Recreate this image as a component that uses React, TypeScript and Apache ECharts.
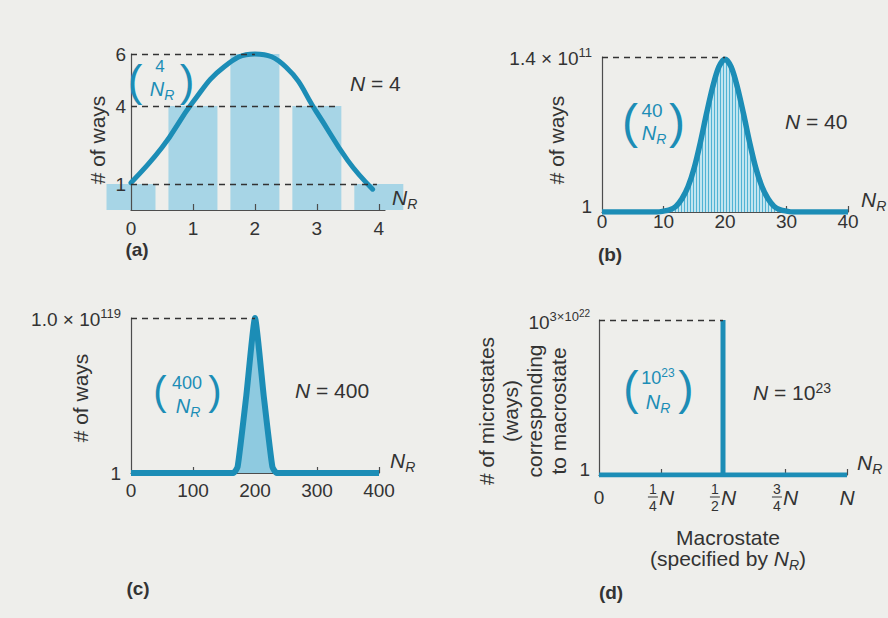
import { useEffect, useRef } from 'react';
import * as echarts from 'echarts';

// ---------- data ----------
// (a) N = 4
const aBarNR = [0, 1, 2, 3, 4];
const aBarWays = [1, 4, 6, 4, 1];
const aCurveNR = [0, 0.5, 1, 1.5, 2, 2.5, 3, 3.5, 3.9];
const aCurveWays = [1.05, 2.4, 4.15, 5.5, 6, 5.5, 3.75, 1.9, 0.8];
const aXTicks = [0, 1, 2, 3, 4];
const aYTicks = [1, 4, 6];
const aGuideLevels = [6, 4, 1];
const aGuideEnds = [2, 3.35, 3.97];

// (b) N = 40 (ways in units of 10^11)
const bNR = [0, 5, 9, 10, 11, 12, 13, 14, 15, 16, 17, 18, 19, 20, 21, 22, 23, 24, 25, 26, 27, 28, 29, 30, 31, 35, 40];
const bWaysE11 = [0, 0, 0, 0.008, 0.02, 0.05, 0.12, 0.23, 0.4, 0.63, 0.89, 1.13, 1.31, 1.38, 1.31, 1.13, 0.89, 0.63, 0.4, 0.23, 0.12, 0.05, 0.02, 0.008, 0, 0, 0];
const bXTicks = [0, 10, 20, 30, 40];
const bYTicks = [0, 1.4];
const bPeak = [20, 1.4];

// (c) N = 400 (ways in units of 10^119)
const cNR = [0, 100, 165, 172, 186, 200, 214, 228, 235, 300, 400];
const cWaysE119 = [0, 0, 0, 0.04, 0.5, 1, 0.5, 0.04, 0, 0, 0];
const cXTicks = [0, 100, 200, 300, 400];
const cYTicks = [0, 1];
const cPeak = [200, 1];

// (d) N = 10^23 (fraction of N, ways relative to the maximum)
const dFractionOfN = [0, 0.5, 0.5, 0.5, 1];
const dWaysRel = [0, 0, 1, 0, 0];
const dXTicks = [0, 0.25, 0.5, 0.75, 1];
const dXTickNumerators = ['0', '1', '1', '3', 'N'];
const dXTickDenominators = ['', '4', '2', '4', ''];
const dYTicks = [0, 1];
const dPeak = [0.5, 1];

// ---------- style ----------
const FONT = 'Liberation Sans';
const TEAL = '#1c8db6';
const INK = '#333333';
const AXIS = '#4d4d4d';
const BG = '#eeeeeb';

const tok = (size: number, extra: any = {}) => ({
  fontSize: size, fontFamily: FONT, color: INK, ...extra,
});

const nrRich = (color: string, size: number) => ({
  i: tok(size, { fontStyle: 'italic', color, verticalAlign: 'bottom', padding: [0, 0, 3, 0] }),
  r: tok(Math.round(size * 0.68), { fontStyle: 'italic', color, verticalAlign: 'bottom' }),
  m: tok(size, { color, verticalAlign: 'bottom', padding: [0, 0, 3, 0] }),
  s: tok(Math.round(size * 0.68), { color, verticalAlign: 'bottom', padding: [0, 0, 11, 0] }),
});

const supRich = {
  one: tok(19, { verticalAlign: 'bottom', padding: [0, 0, 12, 0] }),
  base: tok(19, { verticalAlign: 'bottom' }),
  sup: tok(13, { verticalAlign: 'bottom', padding: [0, 0, 9, 0] }),
  sup2: tok(10, { verticalAlign: 'bottom', padding: [0, 0, 14, 0] }),
};

const grids = [
  { left: 131, top: 54, width: 254, height: 156 },
  { left: 602, top: 57, width: 246, height: 155 },
  { left: 131, top: 318, width: 248, height: 155 },
  { left: 599, top: 320, width: 248, height: 155 },
];

function xAxisCfg(gi: number, max: number, ticks: number[], fmt: any, margin: number, nameGap: number, rich: any = {}, z = 0) {
  return {
    type: 'value', gridIndex: gi, min: 0, max, z,
    axisLine: { show: true, onZero: false, lineStyle: { color: AXIS, width: 1.2 } },
    axisTick: { show: true, inside: true, length: 6, customValues: ticks.slice(1), lineStyle: { color: AXIS, width: 1.2 } },
    axisLabel: { show: true, customValues: ticks, formatter: fmt, margin, verticalAlign: 'middle', color: INK, fontFamily: FONT, fontSize: 19, rich, hideOverlap: false },
    splitLine: { show: false },
    name: '{i|N}{r|R}', nameLocation: 'end', nameGap, nameMoveOverlap: false,
    nameTextStyle: { align: 'left', verticalAlign: 'middle', padding: [0, 0, 22, 0], fontFamily: FONT, rich: nrRich(INK, 21) },
  };
}

function yAxisCfg(gi: number, max: number, ticks: number[], fmt: any, margin: number, name: string, nameGap: number, shift: number, rich: any = undefined, z = 0) {
  const label: any = { show: true, customValues: ticks, formatter: fmt, margin, color: INK, fontFamily: FONT, fontSize: 19, hideOverlap: false };
  if (rich) label.rich = rich;
  return {
    type: 'value', gridIndex: gi, min: 0, max, z,
    axisLine: { show: true, onZero: false, lineStyle: { color: AXIS, width: 1.2 } },
    axisTick: { show: false },
    axisLabel: label,
    splitLine: { show: false },
    name, nameLocation: 'middle', nameGap, nameRotate: 90, nameMoveOverlap: false,
    nameTextStyle: { fontSize: 21, lineHeight: 24, color: INK, fontFamily: FONT, padding: [0, shift, 0, 0] },
  };
}

const dashed = (pairs: number[][][]) => ({
  silent: true, symbol: ['none', 'none'], label: { show: false },
  lineStyle: { type: [6, 5], color: '#333', width: 1.3 },
  emphasis: { disabled: true },
  data: pairs.map(([a, b]) => [{ coord: a }, { coord: b }]),
});

function txt(x: number, y: number, text: string, fontSize: number, o: any = {}) {
  return {
    type: 'text', x, y, silent: true, z: 10,
    style: {
      text, fontSize, fontFamily: FONT, fill: o.fill ?? INK,
      fontStyle: o.italic ? 'italic' : 'normal', fontWeight: o.bold ? 'bold' : 'normal',
      align: o.align ?? 'center', textAlign: o.align ?? 'center', verticalAlign: 'middle', textVerticalAlign: 'middle',
      rich: o.rich,
    },
  };
}

function binom(lp: number[], rp: number[], top: number[], bot: number[], paren: number, topText: string, topSize: number) {
  return [
    txt(lp[0], lp[1], '(', paren, { fill: TEAL }),
    txt(rp[0], rp[1], ')', paren, { fill: TEAL }),
    txt(top[0], top[1], topText, topSize, { fill: TEAL, rich: nrRich(TEAL, topSize) }),
    txt(bot[0], bot[1], '{i|N}{r|R}', 20, { fill: TEAL, rich: nrRich(TEAL, 20) }),
  ];
}

function stripes() {
  const c = document.createElement('canvas');
  c.width = 3; c.height = 6;
  const ctx = c.getContext('2d')!;
  ctx.fillStyle = '#c2e5f0'; ctx.fillRect(0, 0, 3, 6);
  ctx.fillStyle = '#52b3d4'; ctx.fillRect(0, 0, 1, 6);
  return c;
}

function buildOption(): any {
  const lineBase = { type: 'line', symbol: 'none', showSymbol: false, z: 3, emphasis: { disabled: true } };
  return {
    animation: false,
    backgroundColor: BG,
    textStyle: { fontFamily: FONT },
    grid: grids.map((g) => ({ ...g, containLabel: false, outerBoundsMode: 'none' })),
    xAxis: [
      xAxisCfg(0, 4.1, aXTicks, (v: number) => String(v), 18, 7, {}, 3),
      xAxisCfg(1, 40, bXTicks, (v: number) => String(v), 9, 13),
      xAxisCfg(2, 400, cXTicks, (v: number) => String(v), 17, 11),
      xAxisCfg(3, 1, dXTicks, (v: number) => {
        const i = dXTicks.indexOf(v);
        if (dXTickDenominators[i] === '') return dXTickNumerators[i] === 'N' ? '{n|N}' : '{z|' + dXTickNumerators[i] + '}';
        return '{num|' + dXTickNumerators[i] + '}\n{bar|}{nn|N}\n{den|' + dXTickDenominators[i] + '}';
      }, 22, 10, {
        z: tok(19),
        n: tok(21, { fontStyle: 'italic' }),
        num: tok(14, { align: 'left', width: 10, lineHeight: 14, padding: [0, 0, 0, 1] }),
        den: tok(14, { align: 'left', width: 10, lineHeight: 14, padding: [0, 0, 0, 1] }),
        bar: { align: 'left', width: 10, height: 1, lineHeight: 3, backgroundColor: INK },
        nn: tok(21, { align: 'left', fontStyle: 'italic', lineHeight: 3, padding: [0, 0, 0, 1] }),
      }),
    ],
    yAxis: [
      yAxisCfg(0, 6, aYTicks, (v: number) => String(v), 5, '# of ways', 22, 16, undefined, 3),
      yAxisCfg(1, 1.4, bYTicks, (v: number) => (v === 0 ? '{one|1}' : '{base|1.4 × 10}{sup|11}'), 10, '# of ways', 34, 11, supRich),
      yAxisCfg(2, 1, cYTicks, (v: number) => (v === 0 ? '{base|1}' : '{base|1.0 × 10}{sup|119}'), 10, '# of ways', 39, 5, supRich),
      yAxisCfg(3, 1, dYTicks, (v: number) => (v === 0 ? '{one|1}' : '{base|10}{sup|3×10}{sup2|22}'), 9,
        '# of microstates\n(ways)\ncorresponding\nto macrostate', 29, 27, supRich),
    ],
    series: [
      {
        type: 'bar', xAxisIndex: 0, yAxisIndex: 0, clip: false, barWidth: 49, z: 1,
        itemStyle: { color: '#a7d5e6' }, emphasis: { disabled: true },
        data: aBarNR.map((x, i) => [x, aBarWays[i]]),
      },
      {
        ...lineBase, xAxisIndex: 0, yAxisIndex: 0, smooth: 0.45, clip: false,
        lineStyle: { color: TEAL, width: 5, cap: 'round' },
        data: aCurveNR.map((x, i) => [x, aCurveWays[i]]),
        markLine: dashed(aGuideLevels.map((lv, i) => [[0, lv], [aGuideEnds[i], lv]])),
      },
      {
        ...lineBase, xAxisIndex: 1, yAxisIndex: 1, smooth: 0.3,
        lineStyle: { color: TEAL, width: 5.5 },
        areaStyle: { color: { image: stripes(), repeat: 'repeat' }, opacity: 1 },
        data: bNR.map((x, i) => [x, bWaysE11[i]]),
        markLine: dashed([[[0, bPeak[1]], bPeak]]),
      },
      {
        ...lineBase, xAxisIndex: 2, yAxisIndex: 2, smooth: 0.15,
        lineStyle: { color: TEAL, width: 6 },
        areaStyle: { color: '#8ecae0', opacity: 1 },
        data: cNR.map((x, i) => [x, cWaysE119[i]]),
        markLine: dashed([[[0, cPeak[1]], cPeak]]),
      },
      {
        ...lineBase, xAxisIndex: 3, yAxisIndex: 3,
        lineStyle: { color: TEAL, width: 5, join: 'miter' },
        data: dFractionOfN.map((x, i) => [x, dWaysRel[i]]),
        markLine: dashed([[[0, dPeak[1]], dPeak]]),
      },
    ],
    graphic: [
      ...binom([135, 80], [187, 80], [160, 66], [162, 90], 44, '4', 17),
      ...binom([630, 121], [677, 121], [652, 110], [654, 134], 48, '40', 19),
      ...binom([160, 391], [215, 391], [187, 383], [188, 407], 40, '400', 18),
      ...binom([631, 388], [686, 388], [658, 378], [658, 403], 46, '{m|10}{s|23}', 18),
      txt(350, 85, '{i|N}{m| = 4}', 21, { align: 'left', rich: nrRich(INK, 21) }),
      txt(785, 123, '{i|N}{m| = 40}', 21, { align: 'left', rich: nrRich(INK, 21) }),
      txt(295, 392, '{i|N}{m| = 400}', 21, { align: 'left', rich: nrRich(INK, 21) }),
      txt(753, 393, '{i|N}{m| = 10}{s|23}', 21, { align: 'left', rich: nrRich(INK, 21) }),
      txt(728, 537, 'Macrostate', 21),
      txt(728, 560, '{m|(specified by }{i|N}{r|R}{m|)}', 21, { rich: nrRich(INK, 21) }),
      txt(137, 249, '(a)', 19, { bold: true }),
      txt(610, 254, '(b)', 19, { bold: true }),
      txt(138, 588, '(c)', 19, { bold: true }),
      txt(611, 592, '(d)', 19, { bold: true }),
    ],
  };
}

export default function App() {
  const ref = useRef<HTMLDivElement>(null);
  useEffect(() => {
    document.body.style.margin = '0';
    const chart = echarts.init(ref.current!, undefined, { renderer: 'svg' });
    chart.setOption(buildOption());
    return () => chart.dispose();
  }, []);
  return <div ref={ref} style={{ width: 888, height: 618, background: BG, fontFamily: 'Liberation Sans' }} />;
}
